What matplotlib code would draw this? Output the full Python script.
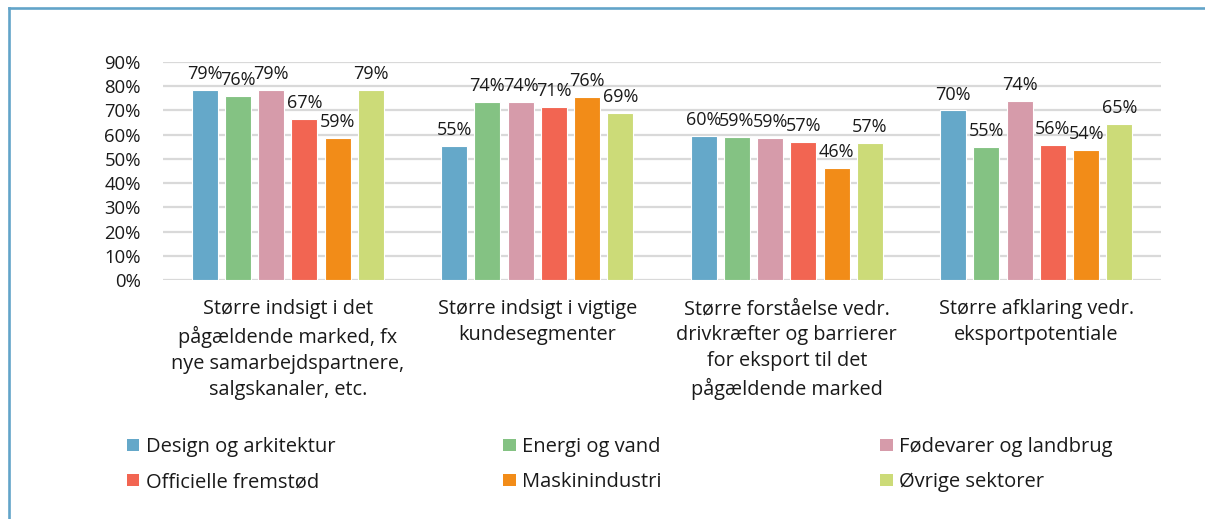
import matplotlib
matplotlib.use("Agg")
import matplotlib.pyplot as plt
import numpy as np
from matplotlib.patches import Patch
from matplotlib.lines import Line2D

plt.rcParams['font.family'] = ['Open Sans', 'DejaVu Sans']

# categories (x-axis groups)
categories = [
    "Større indsigt i det\npågældende marked, fx\nnye samarbejdspartnere,\nsalgskanaler, etc.",
    "Større indsigt i vigtige\nkundesegmenter",
    "Større forståelse vedr.\ndrivkræfter og barrierer\nfor eksport til det\npågældende marked",
    "Større afklaring vedr.\neksportpotentiale",
]

sectors = ["Design og arkitektur", "Energi og vand", "Fødevarer og landbrug",
           "Officielle fremstød", "Maskinindustri", "Øvrige sektorer"]

# share (%) per sector, one value per category
design = [78.6, 55.2, 59.6, 70.0]
energi = [75.8, 73.6, 59.0, 55.0]
foedevarer = [78.6, 73.6, 58.6, 74.0]
officielle = [66.6, 71.3, 57.1, 55.6]
maskin = [58.6, 75.6, 46.2, 53.6]
oevrige = [78.6, 69.0, 56.6, 64.6]

series = [design, energi, foedevarer, officielle, maskin, oevrige]
colors = ["#65A8C9", "#84C283", "#D69BAA", "#F26552", "#F28C18", "#CCDB78"]

yticks = [0, 10, 20, 30, 40, 50, 60, 70, 80, 90]

W, H = 1205, 519
fig = plt.figure(figsize=(W / 100, H / 100), dpi=100)
ax = fig.add_axes([163 / W, 1 - 280 / H, 998 / W, 218 / H])

x = np.arange(len(categories))
pitch = 0.1333
width = 0.104
txt = "#1a1a1a"

for i, (vals, col) in enumerate(zip(series, colors)):
    pos = x + (i - 2.5) * pitch
    bars = ax.bar(pos, vals, width, color=col, edgecolor="white", linewidth=0.8,
                  label=sectors[i], zorder=3)
    ax.bar_label(bars, labels=[f"{int(v + 0.5):d}%" for v in vals], padding=5,
                 fontsize=13, color=txt)

ax.set_xlim(-0.5, len(categories) - 0.5)
ax.set_ylim(0, 90)
ax.set_yticks(yticks)
ax.set_yticklabels([f"{t}%" for t in yticks], fontsize=13.3, color=txt)
ax.set_xticks(x)
ax.set_xticklabels(categories, fontsize=14.3, color=txt, linespacing=1.4)
ax.tick_params(axis="y", length=0, pad=16)
ax.tick_params(axis="x", length=0, pad=14)
ax.grid(axis="y", color="#D9D9D9", linewidth=1.6, zorder=0)
for s in ax.spines.values():
    s.set_visible(False)

# legend in three columns
handles = [Patch(facecolor=c, edgecolor="none") for c in colors]
col_x = [126.8, 503.3, 879.9]
for k in range(3):
    leg = fig.legend([handles[k], handles[k + 3]], [sectors[k], sectors[k + 3]],
                     loc="upper left", bbox_to_anchor=(col_x[k] / W, 1 - 437 / H),
                     frameon=False, fontsize=14.5, borderpad=0, borderaxespad=0,
                     handlelength=0.63, handleheight=0.55, handletextpad=0.3,
                     labelspacing=0.75, labelcolor=txt)

# blue frame round the figure
frame_col = "#62A4C9"
fig.add_artist(Line2D([9 / W, 1], [1 - 8 / H, 1 - 8 / H], color=frame_col,
                      linewidth=1.9, transform=fig.transFigure))
fig.add_artist(Line2D([9 / W, 9 / W], [0, 1 - 8 / H], color=frame_col,
                      linewidth=1.9, transform=fig.transFigure))

fig.savefig("out.png", dpi=100)
